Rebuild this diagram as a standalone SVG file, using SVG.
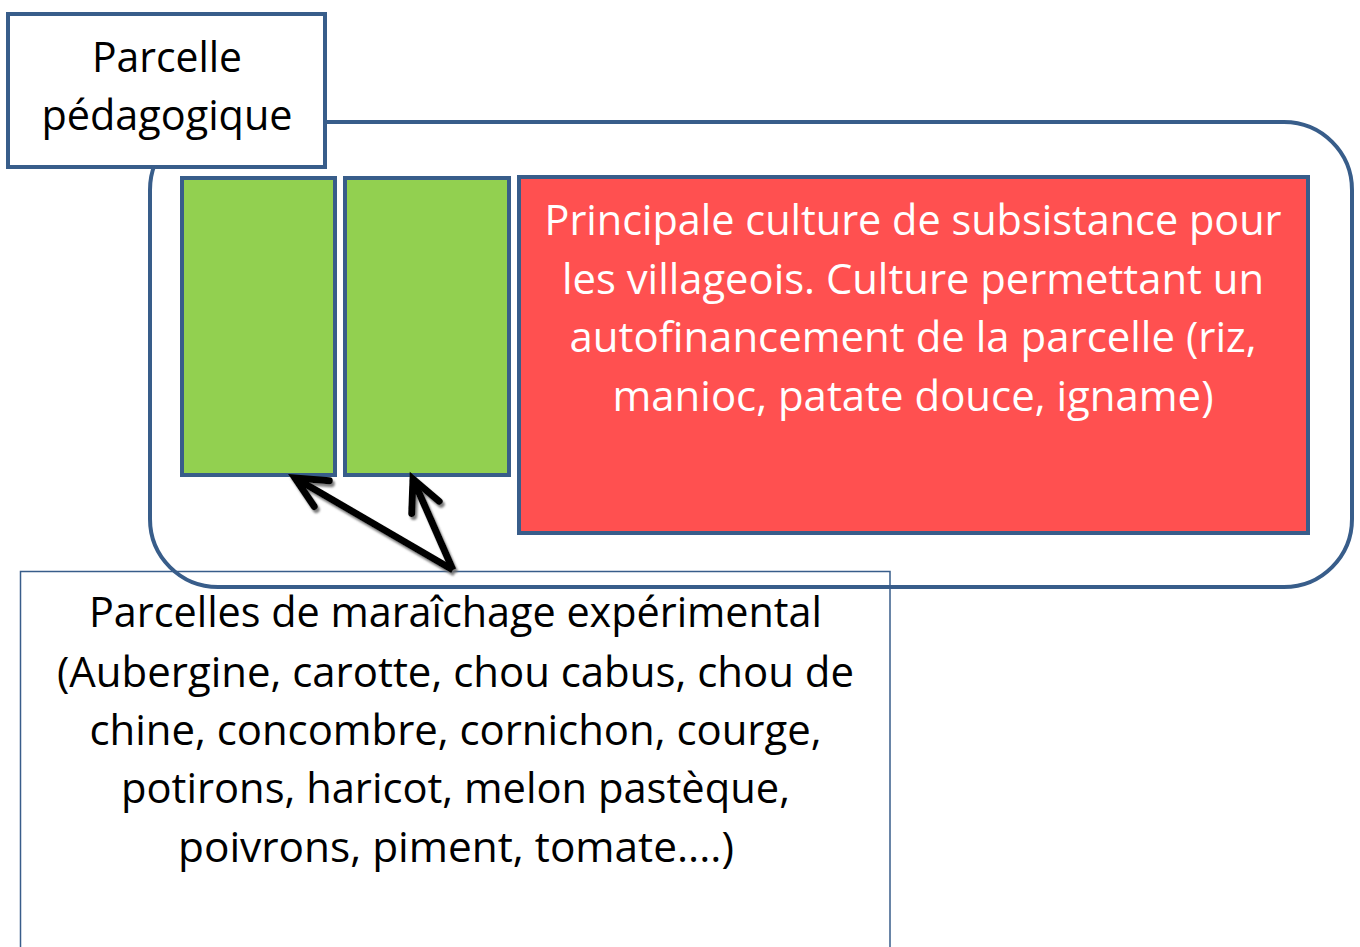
<svg xmlns="http://www.w3.org/2000/svg" width="1360" height="947" viewBox="0 0 1360 947">
<defs>
<style>
.outline{fill:none;stroke:#385D8A;stroke-width:4}
.box{stroke:#385D8A;stroke-width:4}
.green{fill:#92D050}
.red{fill:#FF5050}
.white{fill:#FFFFFF}
.thin{fill:none;stroke:#385D8A;stroke-width:1.5}
.t{font-family:"Open Sans","Liberation Sans",sans-serif;font-size:42px;text-anchor:middle}
.dark{fill:#000000}
.light{fill:#FFFFFF}
.arrow{fill:none;stroke:#000000;stroke-width:7;marker-end:url(#chev)}
</style>
<marker id="chev" markerUnits="userSpaceOnUse" orient="auto" markerWidth="48" markerHeight="48" viewBox="-40 -24 48 48" refX="0" refY="0" overflow="visible">
<path d="M -31 -15 L 0 0 L -31 15" fill="none" stroke="#000000" stroke-width="7" stroke-linejoin="miter" stroke-linecap="round"/>
</marker>
<filter id="shadow" x="-20%" y="-20%" width="140%" height="140%">
<feDropShadow dx="2" dy="3" stdDeviation="1.2" flood-color="#707070" flood-opacity="0.9"/>
</filter>
</defs>
<rect width="1360" height="947" fill="#FFFFFF"/>
<g id="enclosure">
<rect class="outline" x="150" y="122" width="1202" height="465" rx="68" ry="68"/>
</g>
<g id="parcelle-pedagogique">
<rect class="box white" x="8" y="14" width="317" height="153"/>
<text class="t dark" x="167" y="72" textLength="150" lengthAdjust="spacingAndGlyphs">Parcelle</text>
<text class="t dark" x="167" y="130" textLength="251" lengthAdjust="spacingAndGlyphs">pédagogique</text>
</g>
<g id="green-plot-1">
<rect class="box green" x="182" y="178" width="153" height="297"/>
</g>
<g id="green-plot-2">
<rect class="box green" x="345" y="178" width="164" height="297"/>
</g>
<g id="culture-principale">
<rect class="box red" x="519" y="177" width="789" height="356"/>
<text class="t light" x="913" y="235" textLength="737" lengthAdjust="spacingAndGlyphs">Principale culture de subsistance pour</text>
<text class="t light" x="913" y="294" textLength="702" lengthAdjust="spacingAndGlyphs">les villageois. Culture permettant un</text>
<text class="t light" x="913" y="352" textLength="687" lengthAdjust="spacingAndGlyphs">autofinancement de la parcelle (riz,</text>
<text class="t light" x="913" y="411" textLength="601" lengthAdjust="spacingAndGlyphs">manioc, patate douce, igname)</text>
</g>
<g id="maraichage">
<rect class="thin" x="20.5" y="571.5" width="869.5" height="400"/>
<text class="t dark" x="455.5" y="627" textLength="733" lengthAdjust="spacingAndGlyphs">Parcelles de maraîchage expérimental</text>
<text class="t dark" x="455.5" y="687" textLength="797" lengthAdjust="spacingAndGlyphs">(Aubergine, carotte, chou cabus, chou de</text>
<text class="t dark" x="455.5" y="745" textLength="732" lengthAdjust="spacingAndGlyphs">chine, concombre, cornichon, courge,</text>
<text class="t dark" x="455.5" y="803" textLength="669" lengthAdjust="spacingAndGlyphs">potirons, haricot, melon pastèque,</text>
<text class="t dark" x="456" y="862" textLength="556" lengthAdjust="spacingAndGlyphs">poivrons, piment, tomate....)</text>
</g>
<g id="connectors" filter="url(#shadow)">
<path class="arrow" d="M 453 570 L 295 478"/>
<path class="arrow" d="M 453 570 L 413 479"/>
</g>
</svg>
